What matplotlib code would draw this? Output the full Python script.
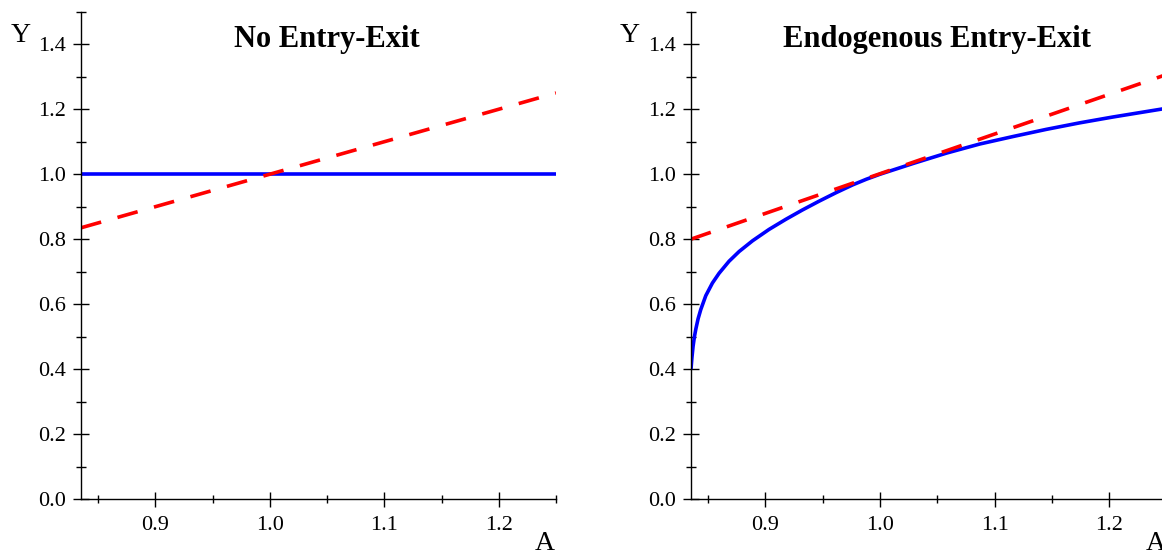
import matplotlib.pyplot as plt
from matplotlib.ticker import MultipleLocator, FormatStrFormatter

plt.rcParams['font.family'] = ['Liberation Serif', 'DejaVu Serif']

# left panel: no entry-exit
a_left = [0.835, 1.25]
y_left_blue = [1.0, 1.0]
y_left_red = [0.835, 1.25]

# right panel: endogenous entry-exit
a_right = [0.8350, 0.8358, 0.8368, 0.8380, 0.8392, 0.8412, 0.8435, 0.8479,
           0.8537, 0.8595, 0.8682, 0.877, 0.8887, 0.9031, 0.9177, 0.9323,
           0.9468, 0.9615, 0.9760, 0.9880, 1.0, 1.0288, 1.058, 1.087,
           1.116, 1.145, 1.174, 1.203, 1.25]
y_right_blue = [0.400, 0.435, 0.470, 0.500, 0.523, 0.555, 0.583, 0.626,
                0.665, 0.695, 0.732, 0.762, 0.795, 0.830, 0.861, 0.890,
                0.917, 0.943, 0.967, 0.9845, 1.0, 1.033, 1.065, 1.093,
                1.116, 1.138, 1.158, 1.176, 1.203]
a_right_red = [0.835, 1.25]
y_right_red = [0.80, 1.307]

titles = ['No Entry-Exit', 'Endogenous Entry-Exit']

W, H = 1162, 554
fig = plt.figure(figsize=(W / 100, H / 100), dpi=100)
ax1 = fig.add_axes([81 / W, 55 / H, 475 / W, 487.2 / H])
ax2 = fig.add_axes([691 / W, 55 / H, 475.6 / W, 487.2 / H])

ax1.plot(a_left, y_left_blue, color='#0000ff', lw=2.6, solid_capstyle='butt')
ax1.plot(a_left, y_left_red, color='#ff0000', lw=2.6, dashes=(5.8, 4.7))
ax1.set_xlim(0.835, 1.25)

ax2.plot(a_right, y_right_blue, color='#0000ff', lw=2.6, solid_capstyle='butt',
         solid_joinstyle='round')
ax2.plot(a_right_red, y_right_red, color='#ff0000', lw=2.6, dashes=(5.8, 4.7))
ax2.set_xlim(0.835, 1.25)

for ax, t in zip([ax1, ax2], titles):
    ax.set_ylim(0, 1.5)
    for s in ['top', 'right']:
        ax.spines[s].set_visible(False)
    for s in ['left', 'bottom']:
        ax.spines[s].set_linewidth(1.0)
    ax.xaxis.set_major_locator(MultipleLocator(0.1))
    ax.xaxis.set_minor_locator(MultipleLocator(0.05))
    ax.yaxis.set_major_locator(MultipleLocator(0.2))
    ax.yaxis.set_minor_locator(MultipleLocator(0.1))
    ax.xaxis.set_major_formatter(FormatStrFormatter('%.1f'))
    ax.yaxis.set_major_formatter(FormatStrFormatter('%.1f'))
    ax.tick_params(axis='both', which='both', direction='inout', width=1.0,
                   labelsize=16, colors='black')
    ax.tick_params(axis='y', which='major', length=11.5, pad=5.0)
    ax.tick_params(axis='y', which='minor', length=6.5)
    ax.tick_params(axis='x', which='major', length=10.8, pad=7.0)
    ax.tick_params(axis='x', which='minor', length=6.0)
    ax.text(0.517, 0.928, t, transform=ax.transAxes, ha='center',
            va='baseline', fontsize=22, fontweight='bold')
    ax.text(-0.128, 0.9386, 'Y', transform=ax.transAxes, ha='center',
            va='baseline', fontsize=20)
    ax.text(0.977, -0.1047, 'A', transform=ax.transAxes, ha='center',
            va='baseline', fontsize=20)
    ax.patch.set_alpha(0)

fig.savefig('out.png', dpi=100)
